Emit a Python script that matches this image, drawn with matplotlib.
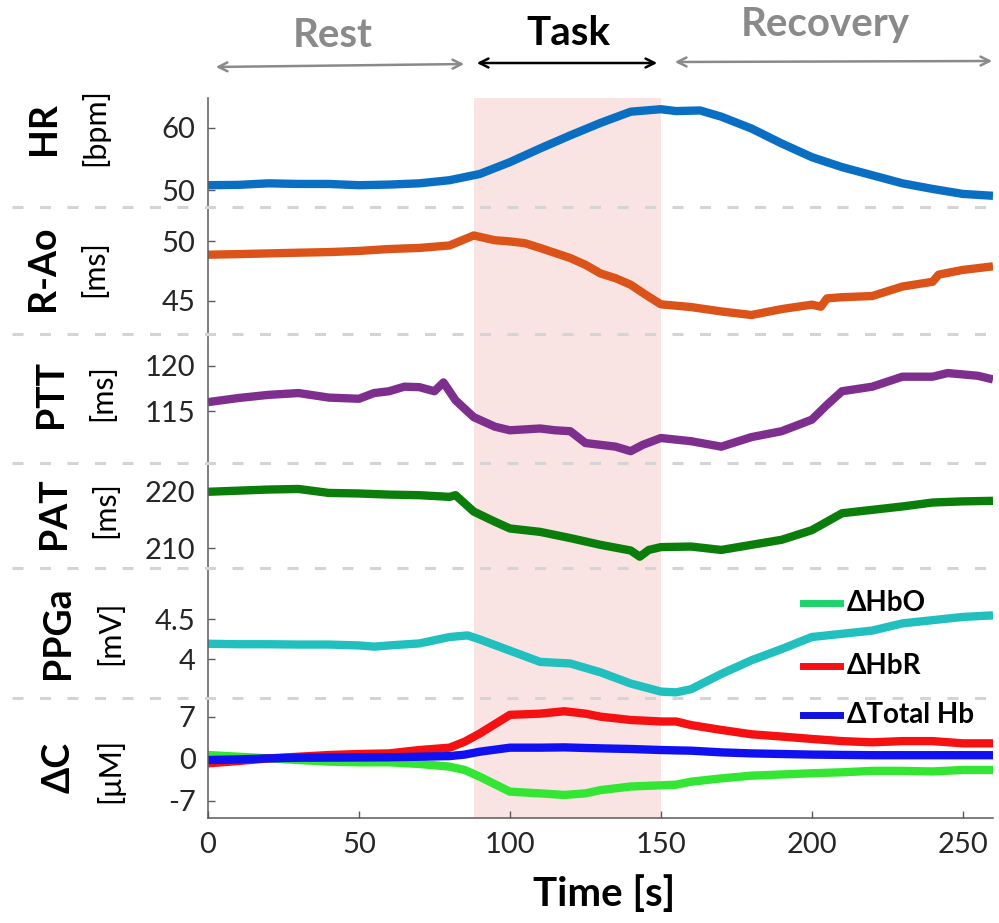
import matplotlib
matplotlib.use('Agg')
import matplotlib.pyplot as plt
from matplotlib.lines import Line2D
from matplotlib.patches import FancyArrowPatch

plt.rcParams['font.family'] = ['Lato', 'DejaVu Sans']
plt.rcParams['axes.unicode_minus'] = False

# ---------------- data ----------------
phase_names = ['Rest', 'Task', 'Recovery']
task_start, task_end = 88, 150
x_ticks = [0, 50, 100, 150, 200, 250]

t_hr = [0, 10, 20, 30, 40, 50, 60, 70, 80, 90, 100, 110, 120, 130, 140, 150, 155, 163,
        170, 180, 190, 200, 210, 220, 230, 240, 250, 260]
hr = [50.8, 50.85, 51.1, 51.0, 51.0, 50.8, 50.9, 51.1, 51.6, 52.6, 54.5, 56.7, 58.8, 60.8,
      62.6, 63.0, 62.7, 62.8, 61.8, 59.9, 57.5, 55.3, 53.7, 52.4, 51.1, 50.2, 49.4, 49.1]

t_rao = [0, 10, 20, 30, 40, 50, 60, 70, 80, 88, 95, 100, 105, 110, 120, 125, 130, 135, 140,
         145, 150, 160, 170, 180, 190, 200, 203, 205, 210, 220, 230, 240, 242, 250, 260]
rao = [48.88, 48.93, 48.99, 49.05, 49.1, 49.2, 49.36, 49.45, 49.66, 50.5, 50.1, 50.0, 49.85,
       49.45, 48.6, 48.03, 47.3, 46.9, 46.35, 45.5, 44.7, 44.47, 44.1, 43.8, 44.3, 44.67,
       44.5, 45.2, 45.3, 45.4, 46.2, 46.6, 47.2, 47.6, 47.9]

t_ptt = [0, 10, 20, 30, 40, 50, 55, 60, 65, 70, 75, 78, 82, 88, 95, 100, 105, 110, 115, 120,
         125, 130, 135, 140, 144, 150, 160, 170, 180, 190, 200, 205, 210, 220, 230, 240, 245,
         255, 260]
ptt = [116.0, 116.45, 116.8, 117.0, 116.5, 116.37, 117.0, 117.2, 117.7, 117.65, 117.2, 118.17,
       116.2, 114.35, 113.3, 112.9, 113.0, 113.1, 112.9, 112.8, 111.5, 111.3, 111.1, 110.6,
       111.3, 112.05, 111.7, 111.1, 112.15, 112.8, 114.07, 115.7, 117.2, 117.7, 118.8, 118.8,
       119.2, 118.9, 118.5]

t_pat = [0, 10, 20, 30, 40, 50, 60, 70, 80, 82, 88, 95, 100, 110, 120, 130, 140, 143, 146,
         150, 160, 170, 180, 190, 200, 210, 220, 230, 240, 250, 260]
pat = [220.0, 220.2, 220.4, 220.5, 219.8, 219.7, 219.5, 219.4, 219.1, 219.4, 216.5, 214.7,
       213.5, 212.9, 211.8, 210.6, 209.6, 208.5, 209.7, 210.2, 210.3, 209.7, 210.6, 211.5,
       213.2, 216.2, 216.8, 217.4, 218.1, 218.3, 218.4]

t_ppg = [0, 10, 20, 30, 40, 50, 55, 60, 70, 80, 86, 90, 100, 110, 120, 130, 140, 150, 155,
         160, 170, 180, 190, 200, 210, 220, 230, 240, 250, 260]
ppg = [4.196, 4.19, 4.19, 4.186, 4.186, 4.175, 4.16, 4.175, 4.2, 4.28, 4.30, 4.25, 4.11, 3.97,
       3.95, 3.84, 3.70, 3.60, 3.59, 3.63, 3.82, 3.99, 4.13, 4.28, 4.32, 4.36, 4.45, 4.49,
       4.53, 4.55]

t_hb = [0, 10, 20, 30, 40, 50, 60, 70, 80, 85, 90, 100, 110, 118, 125, 130, 140, 150, 155,
        160, 170, 180, 190, 200, 210, 220, 230, 240, 250, 260]
hbo = [0.63, 0.35, 0.07, -0.2, -0.47, -0.58, -0.58, -0.86, -1.3, -1.85, -2.97, -5.46, -5.74,
       -6.0, -5.74, -5.2, -4.6, -4.4, -4.3, -3.8, -3.25, -2.8, -2.6, -2.4, -2.24, -2.0, -2.0,
       -2.1, -1.85, -1.85]
hbr = [-0.75, -0.37, 0.07, 0.35, 0.63, 0.8, 0.9, 1.46, 1.85, 2.84, 4.2, 7.3, 7.5, 7.9, 7.5,
       7.0, 6.45, 6.2, 6.2, 5.6, 4.8, 4.07, 3.7, 3.3, 2.94, 2.74, 2.94, 2.94, 2.57, 2.57]
hbt = [-0.2, -0.1, 0.07, 0.18, 0.2, 0.22, 0.25, 0.35, 0.45, 0.7, 1.18, 1.85, 1.85, 1.9, 1.8,
       1.74, 1.63, 1.46, 1.4, 1.35, 1.07, 0.9, 0.8, 0.7, 0.65, 0.6, 0.6, 0.6, 0.6, 0.6]
hb_labels = ['\u0394HbO', '\u0394HbR', '\u0394Total Hb']

# ---------------- layout ----------------
W, H = 999, 923
fig = plt.figure(figsize=(W / 100, H / 100), dpi=100)

def fx(px):
    return px / W

def fy(py):
    return 1 - py / H

X0, X1 = 208, 993
panels = [
    dict(name='HR', unit='[bpm]', t=t_hr, ys=[hr], colors=['#0a6fc2'], ylim=(47.3, 64.8),
         ticks=[50, 60], box=(98, 207), npos=(44, 129), upos=(95, 127)),
    dict(name='R-Ao', unit='[ms]', t=t_rao, ys=[rao], colors=['#db5318'], ylim=(42.2, 52.9),
         ticks=[45, 50], box=(207, 334), npos=(43, 268), upos=(94, 269)),
    dict(name='PTT', unit='[ms]', t=t_ptt, ys=[ptt], colors=['#7e2f8e'], ylim=(109.3, 123.5),
         ticks=[115, 120], box=(334, 463), npos=(51, 394), upos=(102, 393)),
    dict(name='PAT', unit='[ms]', t=t_pat, ys=[pat], colors=['#0a7d0a'], ylim=(206.5, 225.1),
         ticks=[210, 220], box=(463, 568), npos=(54, 513), upos=(105, 510)),
    dict(name='PPGa', unit='[mV]', t=t_ppg, ys=[ppg], colors=['#22bfbf'], ylim=(3.52, 5.14),
         ticks=[4, 4.5], box=(568, 698), npos=(58, 633), upos=(110, 633)),
    dict(name='\u0394C', unit='[\u03bcM]', t=t_hb, ys=[hbo, hbr, hbt],
         colors=['#33e633', '#f51111', '#1010f0'], ylim=(-9.83, 10.1),
         ticks=[-7, 0, 7], box=(698, 818), npos=(59, 767), upos=(110, 770)),
]

spine_col = '#5a5a5a'
tick_col = '#262626'
for i, p in enumerate(panels):
    top, bot = p['box']
    ax = fig.add_axes([fx(X0), fy(bot), fx(X1) - fx(X0), (bot - top) / H])
    ax.axvspan(task_start, task_end, color='#fae3e3', zorder=0, lw=0)
    for y, c in zip(p['ys'], p['colors']):
        ax.plot(p['t'], y, color=c, lw=6, solid_capstyle='butt', solid_joinstyle='round')
    ax.set_xlim(0, 260)
    ax.set_ylim(*p['ylim'])
    ax.set_yticks(p['ticks'])
    ax.set_yticklabels(['%g' % v for v in p['ticks']])
    for s in ['top', 'right']:
        ax.spines[s].set_visible(False)
    ax.spines['left'].set_color(spine_col)
    ax.spines['left'].set_linewidth(1.1)
    ax.tick_params(axis='y', direction='in', length=5, width=1, color=spine_col,
                   labelsize=21, labelcolor=tick_col, pad=9)
    if i < len(panels) - 1:
        ax.spines['bottom'].set_visible(False)
        ax.set_xticks([])
    else:
        ax.spines['bottom'].set_color(spine_col)
        ax.spines['bottom'].set_linewidth(1.1)
        ax.set_xticks(x_ticks)
        ax.set_xticklabels(['%d' % v for v in x_ticks])
        ax.tick_params(axis='x', direction='in', length=5, width=1, color=spine_col,
                       labelsize=21, labelcolor=tick_col, pad=10)
    ax.patch.set_alpha(0)
    fig.text(fx(p['npos'][0]), fy(p['npos'][1]), p['name'], rotation=90, ha='center',
             va='center', fontsize=27, fontweight='bold', color='black')
    fig.text(fx(p['upos'][0]), fy(p['upos'][1]), p['unit'], rotation=90, ha='center',
             va='center', fontsize=22, color='black')
    if i > 0:
        fig.add_artist(Line2D([fx(12), fx(995)], [fy(top), fy(top)], color='#d4d4d4',
                              lw=2.2, ls=(0, (3.6, 5.4)), transform=fig.transFigure,
                              zorder=5))

# legend for the Delta C panel (drawn by hand in figure coordinates)
leg_y = [603, 666, 715]
leg_cols = ['#1dd36a', '#f51111', '#1010e0']
for lab, c, yy in zip(hb_labels, leg_cols, leg_y):
    fig.add_artist(Line2D([fx(803), fx(840)], [fy(yy), fy(yy)], color=c, lw=5,
                          transform=fig.transFigure, zorder=6))
    fig.text(fx(847), fy(yy), lab, ha='left', va='center', fontsize=20,
             fontweight='bold', color='black', zorder=6)

# phase arrows and labels
arrows = [((213, 67), (467, 64), '#8a8a8a'),
          ((474, 63), (660, 63), 'black'),
          ((672, 62), (995, 61), '#8a8a8a')]
for (a, b, c) in arrows:
    fig.add_artist(FancyArrowPatch((fx(a[0]), fy(a[1])), (fx(b[0]), fy(b[1])),
                                   arrowstyle='<->', mutation_scale=16, lw=1.8, color=c,
                                   transform=fig.transFigure))
label_pos = [(333, 47), (568, 45), (825, 36)]
label_cols = ['#8a8a8a', 'black', '#8a8a8a']
for name, (px, py), c in zip(phase_names, label_pos, label_cols):
    fig.text(fx(px), fy(py), name, ha='center', va='baseline', fontsize=29,
             fontweight='bold', color=c)

fig.text(fx(604), fy(906), 'Time [s]', ha='center', va='baseline', fontsize=29,
         fontweight='bold', color='black')

fig.savefig('out.png', dpi=100)
